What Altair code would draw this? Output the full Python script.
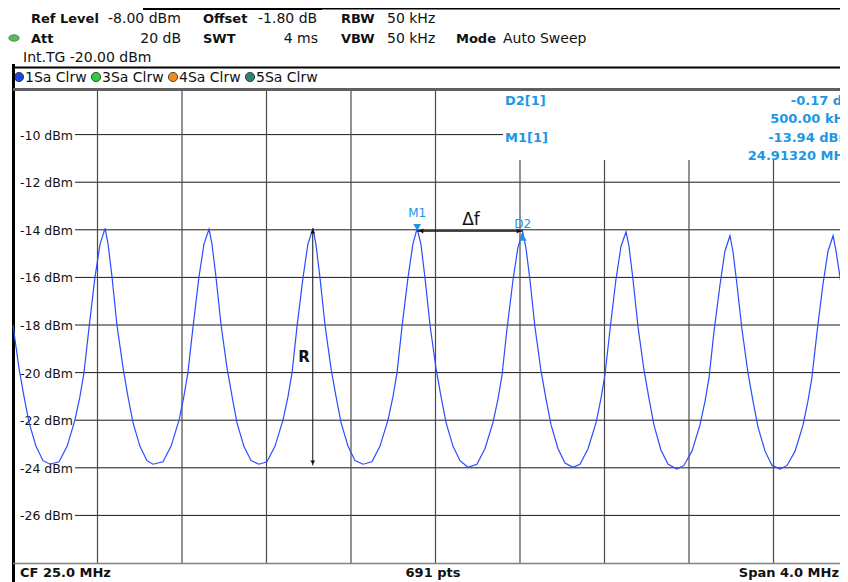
import altair as alt
import pandas as pd

FONT = "DejaVu Sans"

# ---------------- data ----------------
freq_mhz = [
    23.000, 23.028, 23.052, 23.076, 23.109, 23.142, 23.175,
    23.218, 23.256, 23.293, 23.317, 23.336, 23.360, 23.388, 23.412, 23.436,
    23.450, 23.469, 23.492, 23.521, 23.544, 23.568, 23.601, 23.634, 23.663,
    23.710, 23.748, 23.786, 23.809, 23.828, 23.852, 23.880, 23.904, 23.928,
    23.942, 23.961, 23.985, 24.013, 24.037, 24.060, 24.093, 24.127, 24.164,
    24.202, 24.240, 24.278, 24.302, 24.321, 24.344, 24.373, 24.396, 24.420,
    24.434, 24.453, 24.477, 24.505, 24.529, 24.553, 24.586, 24.619, 24.657,
    24.699, 24.737, 24.775, 24.799, 24.818, 24.841, 24.870, 24.893, 24.913,
    24.931, 24.950, 24.974, 25.002, 25.026, 25.050, 25.083, 25.116, 25.154,
    25.196, 25.234, 25.272, 25.296, 25.315, 25.338, 25.367, 25.390, 25.413,
    25.428, 25.447, 25.471, 25.499, 25.523, 25.547, 25.580, 25.613, 25.651,
    25.684, 25.722, 25.760, 25.783, 25.802, 25.826, 25.854, 25.878, 25.902,
    25.916, 25.935, 25.959, 25.987, 26.011, 26.034, 26.067, 26.101, 26.143,
    26.176, 26.214, 26.252, 26.276, 26.295, 26.318, 26.347, 26.370, 26.394,
    26.408, 26.427, 26.451, 26.479, 26.503, 26.527, 26.560, 26.593, 26.631,
    26.664, 26.702, 26.740, 26.763, 26.782, 26.806, 26.834, 26.858, 26.882,
    26.896, 26.915, 26.939, 26.967, 26.991, 27.000,
]
level_dbm = [
    -18.0, -19.8, -21.0, -22.1, -23.1, -23.7, -23.85,
    -23.75, -23.1, -22.0, -21.0, -20.0, -18.1, -16.0, -14.6, -13.94,
    -14.6, -16.0, -18.0, -19.8, -21.0, -22.1, -23.1, -23.7, -23.85,
    -23.75, -23.1, -22.0, -21.0, -20.0, -18.1, -16.0, -14.6, -13.97,
    -14.6, -16.0, -18.0, -19.8, -21.0, -22.1, -23.1, -23.7, -23.85,
    -23.75, -23.1, -22.0, -21.0, -20.0, -18.1, -16.0, -14.6, -13.94,
    -14.6, -16.0, -18.0, -19.8, -21.0, -22.1, -23.1, -23.7, -23.85,
    -23.75, -23.1, -22.0, -21.0, -20.0, -18.1, -16.0, -14.6, -13.94,
    -14.6, -16.0, -18.0, -19.8, -21.0, -22.1, -23.1, -23.7, -23.98,
    -23.85, -23.2, -22.1, -21.1, -20.1, -18.2, -16.1, -14.75, -14.11,
    -14.75, -16.1, -18.1, -19.9, -21.1, -22.2, -23.2, -23.8, -23.98,
    -23.85, -23.2, -22.1, -21.1, -20.1, -18.2, -16.1, -14.7, -14.08,
    -14.7, -16.1, -18.1, -19.9, -21.1, -22.2, -23.25, -23.85, -24.05,
    -23.9, -23.3, -22.2, -21.2, -20.2, -18.3, -16.3, -14.9, -14.25,
    -14.9, -16.3, -18.2, -20.0, -21.2, -22.3, -23.3, -23.9, -24.05,
    -23.9, -23.3, -22.2, -21.2, -20.2, -18.3, -16.3, -14.9, -14.25,
    -14.9, -16.0, -17.6, -19.5, -20.8, -21.3,
]

grid_freqs = [23.4, 23.8, 24.2, 24.6, 25.0, 25.4, 25.8, 26.2, 26.6]
y_ticks = [-10, -12, -14, -16, -18, -20, -22, -24, -26]
y_tick_labels = ["-10 dBm", "-12 dBm", "-14 dBm", "-16 dBm", "-18 dBm",
                 "-20 dBm", "-22 dBm", "-24 dBm", "-26 dBm"]

legend_items = ["1Sa Clrw", "3Sa Clrw", "4Sa Clrw", "5Sa Clrw"]
legend_colors = ["#1f45e0", "#2ecc40", "#f5891f", "#2f8080"]

m1_freq, m1_level = 24.9132, -13.94
d2_freq, d2_level = 25.4132, -14.11
delta_level = -14.05
r_freq, r_top, r_bottom = 24.419, -13.94, -23.9

header_row1 = [("Ref Level", "b"), ("-8.00 dBm", "n"), ("Offset", "b"), ("-1.80 dB", "n"),
               ("RBW", "b"), ("50 kHz", "n")]
header_row2 = [("Att", "b"), ("20 dB", "n"), ("SWT", "b"), ("4 ms", "n"),
               ("VBW", "b"), ("50 kHz", "n"), ("Mode", "b"), ("Auto Sweep", "n")]
header_row3 = "Int.TG -20.00 dBm"
marker_table = [("D2[1]", "-0.17 dB", "500.00 kHz"), ("M1[1]", "-13.94 dBm", "24.91320 MHz")]
bottom_texts = ["CF 25.0 MHz", "691 pts", "Span 4.0 MHz"]

# ---------------- helpers ----------------
W, H = 832, 574
XS = alt.Scale(domain=[23.0, 27.0], range=[5, 850], nice=False, zero=False)
YS = alt.Scale(domain=[-28.0, -8.0], range=[555, 79], nice=False, zero=False)
MARK_BLUE = "#1c97e3"


def fx(field):
    return alt.X(field, type="quantitative", scale=XS, axis=None)


def fy(field):
    return alt.Y(field, type="quantitative", scale=YS, axis=None)


def one(**kw):
    return alt.Data(values=[kw])


def label(text, x, y, size=13, weight="normal", color="#111", align="left"):
    return alt.Chart(one(t=text)).mark_text(
        align=align, baseline="middle", fontSize=size, fontWeight=weight,
        color=color, font=FONT).encode(x=alt.value(x), y=alt.value(y), text="t:N")


def hline(x1, x2, y, color, w):
    return alt.Chart(one(a=0)).mark_rule(color=color, strokeWidth=w).encode(
        x=alt.value(x1), x2=alt.value(x2), y=alt.value(y))


def vline(x, y1, y2, color, w):
    return alt.Chart(one(a=0)).mark_rule(color=color, strokeWidth=w).encode(
        x=alt.value(x), y=alt.value(y1), y2=alt.value(y2))


layers = []

# header frame lines
layers.append(hline(135, 314, 0.5, "#000", 3))
layers.append(hline(314, W, 0.5, "#000", 2))
layers.append(hline(5, W, 59.5, "#000", 2))

# header texts
row1_x = [23, 100, 195, 250, 333, 379]
for (t, w), x in zip(header_row1, row1_x):
    layers.append(label(t, x, 11, size=13 if w == "b" else 14,
                        weight="bold" if w == "b" else "normal"))
row2_x = [(23, "left"), (173, "right"), (195, "left"), (310, "right"),
          (333, "left"), (379, "left"), (448, "left"), (495, "left")]
for (t, w), (x, al) in zip(header_row2, row2_x):
    layers.append(label(t, x, 31, size=13 if w == "b" else 14,
                        weight="bold" if w == "b" else "normal", align=al))
layers.append(label(header_row3, 15, 50, size=14))

# green status oval
layers.append(alt.Chart(one(a=0)).mark_point(
    shape="M-1,0A1,0.62 0 1,1 1,0A1,0.62 0 1,1 -1,0Z", size=110, filled=True,
    fill="#5cb85c", stroke="#3d8a3d", strokeWidth=0.8, opacity=1).encode(
    x=alt.value(6), y=alt.value(30)))

# trace legend bar
for i, (t, c) in enumerate(zip(legend_items, legend_colors)):
    cx = 11 + 77 * i
    layers.append(alt.Chart(one(a=0)).mark_point(
        shape="circle", size=85, filled=True, fill=c, stroke="#222",
        strokeWidth=0.8, opacity=1).encode(x=alt.value(cx), y=alt.value(69)))
    layers.append(label(t, cx + 6, 70, size=14))

# frame
layers.append(vline(5.5, 56, H, "#000", 3))
layers.append(hline(5, W, 81.5, "#5f5f5f", 3))

# grid
gdf = pd.DataFrame({"v": y_ticks, "lab": y_tick_labels})
layers.append(alt.Chart(gdf).mark_rule(color="#1a1a1a", strokeWidth=1).encode(
    y=fy("v"), x=alt.value(67), x2=alt.value(W)))
layers.append(alt.Chart(pd.DataFrame({"g": grid_freqs})).mark_rule(
    color="#4a4a4a", strokeWidth=1.2).encode(x=fx("g"), y=alt.value(83), y2=alt.value(555)))
layers.append(alt.Chart(gdf).mark_text(
    align="right", baseline="middle", fontSize=12.5, font=FONT, color="#111", dy=1).encode(
    y=fy("v"), x=alt.value(65), text="lab:N"))

# marker table (white box)
layers.append(alt.Chart(one(a=0)).mark_rect(color="white").encode(
    x=alt.value(495), x2=alt.value(W), y=alt.value(83), y2=alt.value(152)))
ty = [93, 111, 130, 148]
layers.append(label(marker_table[0][0], 497, ty[0], weight="bold", color=MARK_BLUE))
layers.append(label(marker_table[0][1], 844, ty[0], weight="bold", color=MARK_BLUE, align="right"))
layers.append(label(marker_table[0][2], 844, ty[1], weight="bold", color=MARK_BLUE, align="right"))
layers.append(label(marker_table[1][0], 497, ty[2], weight="bold", color=MARK_BLUE))
layers.append(label(marker_table[1][1], 844, ty[2], weight="bold", color=MARK_BLUE, align="right"))
layers.append(label(marker_table[1][2], 844, ty[3], weight="bold", color=MARK_BLUE, align="right"))

# bottom bar
layers.append(hline(5, W, 555.5, "#808080", 1.5))
layers.append(label(bottom_texts[0], 12, 565, weight="bold"))
layers.append(label(bottom_texts[1], 425, 565, weight="bold", align="center"))
layers.append(label(bottom_texts[2], W - 1, 565, weight="bold", align="right"))

# trace
tdf = pd.DataFrame({"f": freq_mhz, "p": level_dbm})
layers.append(alt.Chart(tdf).mark_line(color="#2a4cff", strokeWidth=1.2).encode(
    x=fx("f"), y=fy("p")))

# R arrow
layers.append(alt.Chart(one(f=r_freq, a=r_top, b=r_bottom)).mark_rule(
    color="#111", strokeWidth=1).encode(x=fx("f"), y=fy("a"), y2=alt.Y2("b")))
layers.append(alt.Chart(one(f=r_freq, a=r_top)).mark_point(
    shape="triangle-up", size=22, filled=True, color="#111", opacity=1, yOffset=3).encode(
    x=fx("f"), y=fy("a")))
layers.append(alt.Chart(one(f=r_freq, b=r_bottom)).mark_point(
    shape="triangle-down", size=22, filled=True, color="#111", opacity=1, yOffset=-3).encode(
    x=fx("f"), y=fy("b")))
layers.append(alt.Chart(one(f=24.378, p=-19.34, t="R")).mark_text(
    fontSize=15, fontWeight="bold", font=FONT, color="#111").encode(
    x=fx("f"), y=fy("p"), text="t:N"))

# delta-f arrow
layers.append(alt.Chart(one(a=m1_freq, b=d2_freq, p=delta_level)).mark_rule(
    color="#111", strokeWidth=1.3).encode(x=fx("a"), x2=alt.X2("b"), y=fy("p")))
layers.append(alt.Chart(one(a=m1_freq, p=delta_level)).mark_point(
    shape="triangle-left", size=24, filled=True, color="#111", opacity=1, xOffset=4).encode(
    x=fx("a"), y=fy("p")))
layers.append(alt.Chart(one(b=d2_freq, p=delta_level)).mark_point(
    shape="triangle-right", size=24, filled=True, color="#111", opacity=1, xOffset=-4).encode(
    x=fx("b"), y=fy("p")))
layers.append(alt.Chart(one(f=25.168, p=-13.59, t="\u0394f")).mark_text(
    fontSize=17, font=FONT, color="#111").encode(x=fx("f"), y=fy("p"), text="t:N"))

# markers
layers.append(alt.Chart(one(f=m1_freq, p=m1_level)).mark_point(
    shape="triangle-down", size=60, filled=True, color=MARK_BLUE, opacity=1, yOffset=-1).encode(
    x=fx("f"), y=fy("p")))
layers.append(alt.Chart(one(f=m1_freq, p=m1_level, t="M1")).mark_text(
    fontSize=12, font=FONT, color=MARK_BLUE, dy=-15).encode(x=fx("f"), y=fy("p"), text="t:N"))
layers.append(alt.Chart(one(f=d2_freq, p=d2_level)).mark_point(
    shape="triangle-up", size=60, filled=True, color=MARK_BLUE, opacity=1, yOffset=5).encode(
    x=fx("f"), y=fy("p")))
layers.append(alt.Chart(one(f=d2_freq, p=d2_level, t="D2")).mark_text(
    fontSize=12, font=FONT, color=MARK_BLUE, dy=-8).encode(x=fx("f"), y=fy("p"), text="t:N"))

chart = alt.layer(*layers).properties(
    width=W, height=H, padding=0,
    autosize=alt.AutoSizeParams(type="none"),
).configure_view(stroke=None)

chart.save("out.html", embed_options={"renderer": "svg", "actions": False})
